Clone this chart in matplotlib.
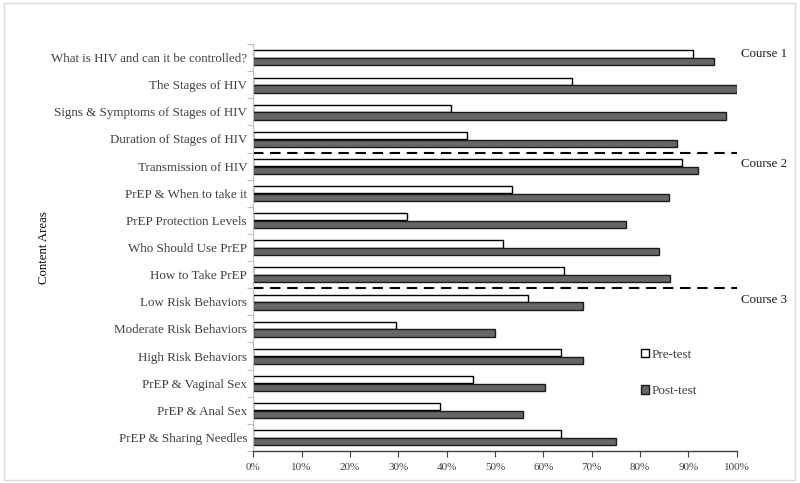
import matplotlib
matplotlib.use("Agg")
import matplotlib.pyplot as plt
from matplotlib.patches import Rectangle
from matplotlib.ticker import FixedLocator, PercentFormatter
import numpy as np

plt.rcParams['font.family'] = ['Liberation Serif', 'DejaVu Serif']

categories = [
    "What is HIV and can it be controlled?",
    "The Stages of HIV",
    "Signs & Symptoms of Stages of HIV",
    "Duration of Stages of HIV",
    "Transmission of HIV",
    "PrEP & When to take it",
    "PrEP Protection Levels",
    "Who Should Use PrEP",
    "How to Take PrEP",
    "Low Risk Behaviors",
    "Moderate Risk Behaviors",
    "High Risk Behaviors",
    "PrEP & Vaginal Sex",
    "PrEP & Anal Sex",
    "PrEP & Sharing Needles",
]
pre_test = [90.9, 65.9, 40.8, 44.3, 88.7, 53.5, 31.7, 51.6, 64.3, 56.8, 29.5, 63.7, 45.4, 38.7, 63.7]
post_test = [95.4, 100.0, 97.8, 87.6, 92.0, 85.9, 77.2, 83.9, 86.1, 68.1, 50.1, 68.1, 60.3, 55.7, 75.1]
course_labels = ["Course 1", "Course 2", "Course 3"]
x_ticks = [0, 10, 20, 30, 40, 50, 60, 70, 80, 90, 100]

fig = plt.figure(figsize=(8.0, 4.83), dpi=100)
ax = fig.add_axes([0.3166, 0.0663, 0.9209 - 0.3166, 0.9089 - 0.0663])

y = np.arange(len(categories))
h = 0.27
ax.barh(y - 0.13, pre_test, height=h, color='white', edgecolor='black', linewidth=1.0, label='Pre-test')
ax.barh(y + 0.155, post_test, height=h, color='#666666', edgecolor='#1a1a1a', linewidth=1.0, label='Post-test')

ax.set_ylim(len(categories) - 0.5, -0.5)
ax.set_xlim(0, 100)

# dashed separators between courses
for yy in (3.5, 8.5):
    ax.axhline(yy, xmin=0, xmax=1, color='black', linestyle=(0, (5, 3.2)), linewidth=1.5)

ax.set_yticks(y)
ax.set_yticklabels(categories, fontsize=9.4, color='#404040')
ax.yaxis.set_minor_locator(FixedLocator(np.arange(-0.5, len(categories), 1.0)))
ax.tick_params(axis='y', which='major', length=0, pad=4.5)
ax.tick_params(axis='y', which='minor', length=4, color='#bfbfbf', width=0.8)

ax.set_xticks(x_ticks)
ax.xaxis.set_major_formatter(PercentFormatter(decimals=0))
ax.tick_params(axis='x', which='major', length=4, color='#404040', labelsize=8, labelcolor='#404040', pad=5)

for s in ('top', 'right'):
    ax.spines[s].set_visible(False)
ax.spines['left'].set_color('#bfbfbf')
ax.spines['left'].set_linewidth(0.8)
ax.spines['bottom'].set_color('#404040')
ax.spines['bottom'].set_linewidth(1.0)

ax.set_ylabel("Content Areas", fontsize=9.2, color='black', labelpad=0)
ax.yaxis.set_label_coords(-0.421, 0.5)

# course labels
trans = ax.get_yaxis_transform()
for lbl, yy in zip(course_labels, (-0.13, 3.92, 8.94)):
    ax.text(1.008, yy, lbl, transform=trans, fontsize=9.3, color='#1a1a1a', va='center', ha='left', clip_on=False)

leg = ax.legend(loc='upper left', bbox_to_anchor=(0.791, 0.264), frameon=False, fontsize=9.5,
                handlelength=0.6, handleheight=0.6, handletextpad=0.2, labelspacing=1.85, borderaxespad=0)
for t in leg.get_texts():
    t.set_color('#404040')

fig.patches.append(Rectangle((0.005, 0.006), 0.989, 0.988, transform=fig.transFigure,
                             fill=False, edgecolor='#d9d9d9', linewidth=1.0))

fig.savefig("out.png", dpi=100)
